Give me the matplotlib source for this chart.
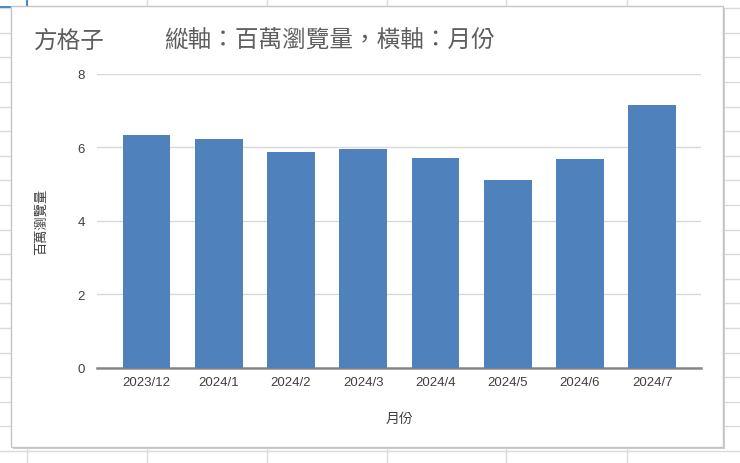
import matplotlib
matplotlib.use("Agg")
import matplotlib.pyplot as plt
from matplotlib.patches import Rectangle
from matplotlib.lines import Line2D

# data
months = ["2023/12", "2024/1", "2024/2", "2024/3", "2024/4", "2024/5", "2024/6", "2024/7"]
views = [6.33, 6.23, 5.88, 5.94, 5.72, 5.11, 5.69, 7.14]
y_ticks = [0, 2, 4, 6, 8]

plt.rcParams['font.family'] = ['Noto Sans CJK TC', 'DejaVu Sans']

W, H = 740, 464
fig = plt.figure(figsize=(W / 100, H / 100), dpi=100)
fig.patch.set_facecolor("white")

def fx(px):
    return px / W

def fy(py):
    return 1 - py / H

# spreadsheet cells behind the chart
grid_col = "#DADADA"
for k in range(-3, 16):
    yy = 83 + 24.6 * k
    fig.add_artist(Line2D([0, 1], [fy(yy), fy(yy)], color=grid_col, lw=1, zorder=0))
for xx in [26.7, 146.5, 266.5, 386.5, 506.5, 626.5]:
    fig.add_artist(Line2D([fx(xx), fx(xx)], [0, 1], color=grid_col, lw=1, zorder=0))
fig.add_artist(Line2D([0, fx(30)], [fy(8), fy(8)], color="#2F6FC9", lw=1.2, zorder=1))
fig.add_artist(Line2D([fx(26.5), fx(26.5)], [fy(0), fy(8)], color="#2F6FC9", lw=1.2, zorder=1))

# chart box with a faint shadow
fig.add_artist(Rectangle((fx(13), fy(450)), fx(712), 441 / H, transform=fig.transFigure,
                         facecolor="#CCCCCC", edgecolor="none", zorder=1))
fig.add_artist(Rectangle((fx(11), fy(448)), fx(712), 441 / H, transform=fig.transFigure,
                         facecolor="white", edgecolor="#C4C4C4", lw=1, zorder=2))

ax = fig.add_axes([fx(97.3), fy(369), fx(701 - 97.3), (369 - 74.7) / H], zorder=3)
ax.set_facecolor("none")
ax.bar(range(len(months)), views, width=0.66, color="#4F81BD", zorder=3)
ax.set_xlim(-0.68, len(months) - 1 + 0.675)
ax.set_ylim(0, 8)
ax.set_yticks(y_ticks)
ax.yaxis.grid(True, color="#D9D9D9", lw=1)
ax.set_axisbelow(True)
for s in ["top", "right", "left"]:
    ax.spines[s].set_visible(False)
ax.spines["bottom"].set_color("#868686")
ax.spines["bottom"].set_linewidth(1.8)
ax.set_xticks(range(len(months)))
ax.set_xticklabels(months)
ax.tick_params(axis="both", length=0, colors="#404040", labelsize=9.5)
ax.tick_params(axis="x", pad=6)
ax.tick_params(axis="y", pad=9)
for lab in ax.get_xticklabels() + ax.get_yticklabels():
    lab.set_family(["Liberation Sans", "DejaVu Sans"])

ax.set_xlabel("月份", fontsize=10, color="#404040", labelpad=16)
ax.set_ylabel("百萬瀏覽量", fontsize=9.5, color="#404040", labelpad=21.5)

fig.text(fx(34), fy(41), "方格子", fontsize=17, color="#5E5E5E", va="center", ha="left",
         weight="light", zorder=4)
fig.text(fx(164), fy(41), "縱軸：百萬瀏覽量，橫軸：月份", fontsize=17, color="#5E5E5E",
         va="center", ha="left", weight="light", zorder=4)

fig.savefig("out.png", dpi=100)
